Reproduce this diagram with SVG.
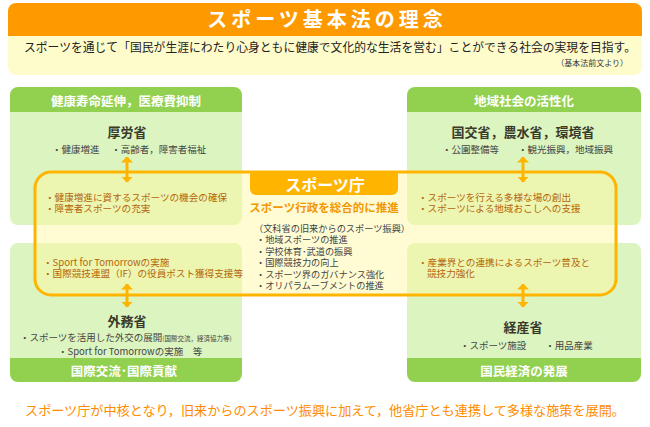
<svg xmlns="http://www.w3.org/2000/svg" width="650" height="427" viewBox="0 0 650 427">
<defs>
<style>
text{font-family:"Noto Sans CJK JP","Noto Sans",sans-serif;}
.gh{fill:#fff;font-size:12.5px;font-weight:bold;text-anchor:middle;}
.min{fill:#3a3a2a;font-size:13px;font-weight:bold;text-anchor:middle;}
.bul{fill:#444;font-size:9.5px;}
.or{fill:#b5650a;font-size:9.6px;}
.lst{fill:#444;font-size:9.2px;}
.gbody{fill:#dcf4c0;}
.ghead{fill:#92d050;}
.conn{stroke:#ffb400;stroke-width:3;fill:none;marker-start:url(#ah);marker-end:url(#ah);}
</style>
<marker id="ah" viewBox="0 0 6 12" refX="5.5" refY="6" markerWidth="6" markerHeight="12" orient="auto-start-reverse" markerUnits="userSpaceOnUse">
<path d="M0,0 L6,6 L0,12 Z" fill="#ffb400"/>
</marker>
</defs>
<rect width="650" height="427" fill="#fff"/>

<g id="header">
<path d="M8,11 a8,8 0 0 1 8,-8 h618 a8,8 0 0 1 8,8 v25 h-634 Z" fill="#ff9900"/>
<path d="M8,36 h634 v31 a8,8 0 0 1 -8,8 h-618 a8,8 0 0 1 -8,-8 Z" fill="#fffccc"/>
<text x="327" y="27" fill="#fff" font-size="20" font-weight="bold" text-anchor="middle" letter-spacing="4">スポーツ基本法の理念</text>
<text x="24" y="52" fill="#222" font-size="12" textLength="612" lengthAdjust="spacingAndGlyphs">スポーツを通じて「国民が生涯にわたり心身ともに健康で文化的な生活を営む」ことができる社会の実現を目指す。</text>
<text x="628" y="66" fill="#333" font-size="8" text-anchor="end">（基本法前文より）</text>
</g>

<g id="box-health">
<path d="M10,95 a8,8 0 0 1 8,-8 h216 a8,8 0 0 1 8,8 v17 h-232 Z" class="ghead"/>
<path d="M10,112 h232 v105 a8,8 0 0 1 -8,8 h-216 a8,8 0 0 1 -8,-8 Z" class="gbody"/>
<text x="126" y="105.5" class="gh">健康寿命延伸，医療費抑制</text>
<text x="127" y="136.5" class="min">厚労省</text>
<text x="52" y="152.5" class="bul">・健康増進　 ・高齢者，障害者福祉</text>
</g>

<g id="box-region">
<path d="M407,95 a8,8 0 0 1 8,-8 h218 a8,8 0 0 1 8,8 v17 h-234 Z" class="ghead"/>
<path d="M407,112 h234 v105 a8,8 0 0 1 -8,8 h-218 a8,8 0 0 1 -8,-8 Z" class="gbody"/>
<text x="524" y="105.5" class="gh">地域社会の活性化</text>
<text x="523" y="136.5" class="min">国交省，農水省，環境省</text>
<text x="442" y="152.5" class="bul">・公園整備等　　・観光振興，地域振興</text>
</g>

<g id="box-intl">
<path d="M10,251 a8,8 0 0 1 8,-8 h216 a8,8 0 0 1 8,8 v107 h-232 Z" class="gbody"/>
<path d="M10,358 h232 v16 a8,8 0 0 1 -8,8 h-216 a8,8 0 0 1 -8,-8 Z" class="ghead"/>
<text x="127" y="325.5" class="min">外務省</text>
<text class="bul"><tspan x="20" y="340.5">・スポーツを活用した外交の展開<tspan font-size="6.5">(国際交流，経済協力等)</tspan></tspan><tspan x="58" y="354.5">・Sport for Tomorrowの実施　等</tspan></text>
<text x="124" y="375.5" class="gh">国際交流･国際貢献</text>
</g>

<g id="box-economy">
<path d="M407,251 a8,8 0 0 1 8,-8 h218 a8,8 0 0 1 8,8 v107 h-234 Z" class="gbody"/>
<path d="M407,358 h234 v16 a8,8 0 0 1 -8,8 h-218 a8,8 0 0 1 -8,-8 Z" class="ghead"/>
<text x="523" y="331.5" class="min">経産省</text>
<text x="460" y="348.5" class="bul">・スポーツ施設　　・用品産業</text>
<text x="524" y="375.5" class="gh">国民経済の発展</text>
</g>

<g id="sports-agency">
<rect x="35" y="172" width="581" height="123" rx="16" ry="16" fill="#fff9a0" fill-opacity="0.45" stroke="#ffb400" stroke-width="3"/>
<path d="M250,172 h148 v17 a6,6 0 0 1 -6,6 h-136 a6,6 0 0 1 -6,-6 Z" fill="#ffb400"/>
<text x="325" y="191" fill="#fff" font-size="16" font-weight="bold" text-anchor="middle">スポーツ庁</text>
<text x="324" y="212" fill="#f39800" font-size="11.5" font-weight="bold" text-anchor="middle">スポーツ行政を総合的に推進</text>
<text class="lst"><tspan x="254" y="231.5">（文科省の旧来からのスポーツ振興）</tspan><tspan x="256" y="243">・地域スポーツの推進</tspan><tspan x="256" y="254.5">・学校体育･武道の振興</tspan><tspan x="256" y="266">・国際競技力の向上</tspan><tspan x="256" y="277.5">・スポーツ界のガバナンス強化</tspan><tspan x="256" y="289">・オリパラムーブメントの推進</tspan></text>
<text class="or"><tspan x="45" y="200.5">・健康増進に資するスポーツの機会の確保</tspan><tspan x="45" y="211.5">・障害者スポーツの充実</tspan></text>
<text class="or"><tspan x="418" y="200.5">・スポーツを行える多様な場の創出</tspan><tspan x="418" y="211.5">・スポーツによる地域おこしへの支援</tspan></text>
<text class="or"><tspan x="43" y="265.5">・Sport for Tomorrowの実施</tspan><tspan x="43" y="276.5">・国際競技連盟（IF）の役員ポスト獲得支援等</tspan></text>
<text class="or"><tspan x="418" y="265.5">・産業界との連携によるスポーツ普及と</tspan><tspan x="427" y="276.5">競技力強化</tspan></text>
</g>

<g id="connectors">
<path class="conn" d="M127,157 V182"/>
<path class="conn" d="M523,157 V182"/>
<path class="conn" d="M127,284 V307"/>
<path class="conn" d="M523,284 V307"/>
</g>

<text x="325" y="414.5" fill="#ff8c00" font-size="13" text-anchor="middle" textLength="600" lengthAdjust="spacingAndGlyphs">スポーツ庁が中核となり，旧来からのスポーツ振興に加えて，他省庁とも連携して多様な施策を展開。</text>
</svg>
